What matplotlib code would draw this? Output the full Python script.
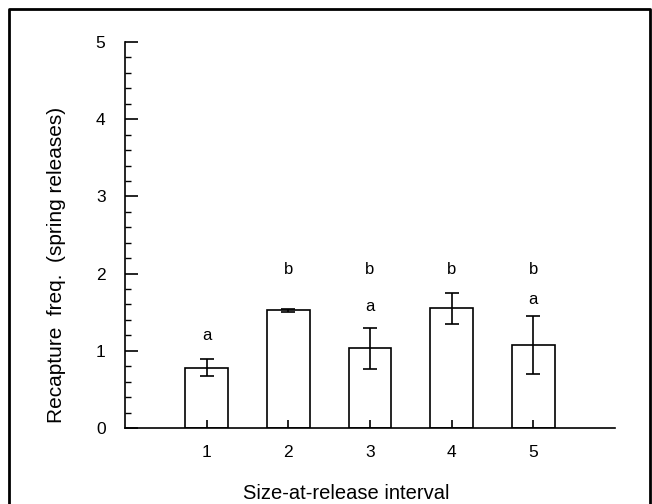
import matplotlib
matplotlib.use("Agg")
import matplotlib.pyplot as plt
from matplotlib.lines import Line2D
from matplotlib.ticker import MultipleLocator

plt.rcParams['font.family'] = ['Liberation Sans', 'DejaVu Sans']

# size-at-release intervals and recapture frequencies (spring releases)
intervals = [1, 2, 3, 4, 5]
freq = [0.78, 1.525, 1.03, 1.55, 1.075]
err = [0.11, 0.02, 0.26, 0.205, 0.38]

# significance letters: (interval, height, letter)
letters = [
    (1, 1.20, 'a'),
    (2, 2.05, 'b'),
    (3, 2.05, 'b'), (3, 1.57, 'a'),
    (4, 2.05, 'b'),
    (5, 2.05, 'b'), (5, 1.66, 'a'),
]

fig = plt.figure(figsize=(6.52, 5.04), dpi=100)
ax = fig.add_axes([0.1917, 0.1508, 0.7515, 0.7659])

ax.bar(intervals, freq, width=0.52, color='white', edgecolor='black', linewidth=1.2)
ax.errorbar(intervals, freq, yerr=err, fmt='none', ecolor='black',
            elinewidth=1.2, capsize=5, capthick=1.2)

for x, y, s in letters:
    ax.text(x, y, s, ha='center', va='center', fontsize=12)

ax.set_xlim(0, 6)
ax.set_ylim(0, 5)
ax.set_xticks(intervals)
ax.set_yticks([0, 1, 2, 3, 4, 5])
ax.yaxis.set_minor_locator(MultipleLocator(0.2))

ax.spines['top'].set_visible(False)
ax.spines['right'].set_visible(False)
ax.spines['left'].set_linewidth(1.2)
ax.spines['bottom'].set_linewidth(1.2)

ax.tick_params(axis='y', which='major', direction='in', length=9, width=1.2,
               labelsize=12.5, pad=14)
ax.tick_params(axis='y', which='minor', direction='in', length=4, width=1.0)
ax.tick_params(axis='x', which='major', direction='in', length=6, width=1.2,
               labelsize=12.5, pad=12)

ax.set_ylabel('Recapture  freq.  (spring releases)', fontsize=15)
ax.yaxis.set_label_coords(-0.121, 0.422)
ax.set_xlabel('Size-at-release interval', fontsize=14.5)
ax.xaxis.set_label_coords(0.451, -0.146)

# frame around the figure (open at the bottom)
fx0, fx1, fy = 9 / 652, 650 / 652, 1 - 9 / 504
fig.add_artist(Line2D([fx0, fx0, fx1, fx1], [0, fy, fy, 0],
                      transform=fig.transFigure, color='black', linewidth=2))

fig.savefig('out.png', dpi=100)
